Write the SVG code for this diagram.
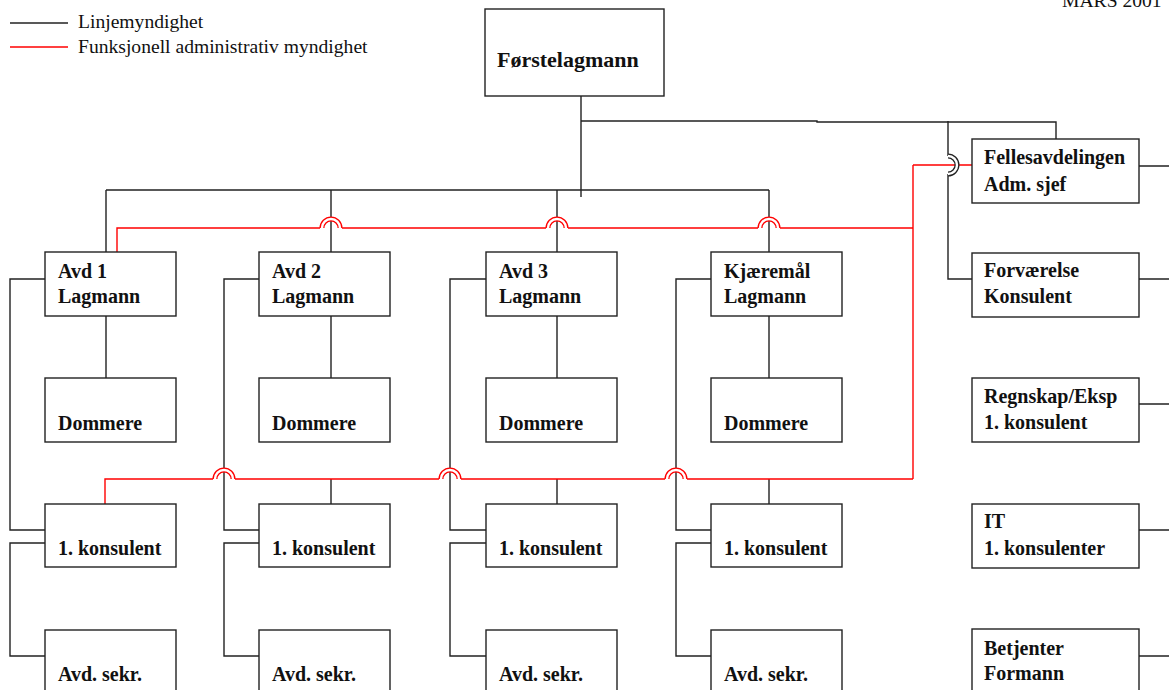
<svg xmlns="http://www.w3.org/2000/svg" width="1169" height="690" viewBox="0 0 1169 690">
<style>
.box{fill:#fff;stroke:#222;stroke-width:1.4}
.t{font-family:"Liberation Serif","Times New Roman",serif;font-weight:bold;font-size:20px;fill:#111}
.lg{font-family:"Liberation Serif","Times New Roman",serif;font-size:19.6px;fill:#111}
.k{fill:none;stroke:#222;stroke-width:1.4}
.r{fill:none;stroke:#f00;stroke-width:1.4}
.hr{fill:none;stroke:#f00;stroke-width:5}
.hk{fill:none;stroke:#222;stroke-width:5}
.hw{fill:none;stroke:#fff;stroke-width:2.4}
</style>
<rect width="1169" height="690" fill="#fff"/>
<g id="legend">
<line class="k" x1="10" y1="23" x2="68" y2="23"/>
<text class="lg" x="78" y="28">Linjemyndighet</text>
<line class="r" x1="10" y1="47" x2="68" y2="47"/>
<text class="lg" x="78" y="53">Funksjonell administrativ myndighet</text>
<text class="lg" x="1062" y="7">MARS 2001</text>
</g>
<g id="connectors">
<path class="k" d="M581 96V197M106 190H769M106 190V252M331 190V252M557 190V252M769 190V252"/>
<path class="k" d="M581 121H817V122H1056V139M948 121V156M948 174V279H972"/>
<path class="k" d="M106 316V378M331 316V378M557 316V378M769 316V378"/>
<path class="k" d="M45 279H10V530H45M45 543H10V656H45M259 279H224V530H259M259 543H224V656H259M486 279H450V530H486M486 543H450V656H486M711 279H676V530H711M711 543H676V656H711"/>
<path class="k" d="M331 479V504M557 479V504M769 479V504"/>
<path class="k" d="M1139 166H1169M1139 279H1169M1139 404H1169M1139 530H1169M1139 656H1169"/>
<path class="r" d="M117 252V228H320M342 228H546M568 228H758M780 228H913M913 165V479M913 165H972M105 504V479H213M235 479H439M461 479H665M687 479H913"/>
<g>
<path class="hr" d="M322 228A9 9 0 0 1 340 228M548 228A9 9 0 0 1 566 228M760 228A9 9 0 0 1 778 228M215 479A9 9 0 0 1 233 479M441 479A9 9 0 0 1 459 479M667 479A9 9 0 0 1 685 479"/>
<path class="hw" d="M322 228A9 9 0 0 1 340 228M548 228A9 9 0 0 1 566 228M760 228A9 9 0 0 1 778 228M215 479A9 9 0 0 1 233 479M441 479A9 9 0 0 1 459 479M667 479A9 9 0 0 1 685 479"/>
<path class="hk" d="M948 156A9 9 0 0 1 948 174"/>
<path class="hw" d="M948 156A9 9 0 0 1 948 174"/>
</g>
</g>
<g id="n-forste"><rect class="box" x="485" y="9" width="179" height="87"/><text class="t" x="497" y="67" style="font-size:22px">Førstelagmann</text></g>
<g id="n-avd1"><rect class="box" x="45" y="252" width="131" height="64"/><text class="t" x="58" y="278">Avd 1</text><text class="t" x="58" y="303">Lagmann</text></g>
<g id="n-avd2"><rect class="box" x="259" y="252" width="131" height="64"/><text class="t" x="272" y="278">Avd 2</text><text class="t" x="272" y="303">Lagmann</text></g>
<g id="n-avd3"><rect class="box" x="486" y="252" width="131" height="64"/><text class="t" x="499" y="278">Avd 3</text><text class="t" x="499" y="303">Lagmann</text></g>
<g id="n-kjaer"><rect class="box" x="711" y="252" width="131" height="64"/><text class="t" x="724" y="278">Kjæremål</text><text class="t" x="724" y="303">Lagmann</text></g>
<g id="n-dom1"><rect class="box" x="45" y="378" width="131" height="64"/><text class="t" x="58" y="430">Dommere</text></g>
<g id="n-dom2"><rect class="box" x="259" y="378" width="131" height="64"/><text class="t" x="272" y="430">Dommere</text></g>
<g id="n-dom3"><rect class="box" x="486" y="378" width="131" height="64"/><text class="t" x="499" y="430">Dommere</text></g>
<g id="n-dom4"><rect class="box" x="711" y="378" width="131" height="64"/><text class="t" x="724" y="430">Dommere</text></g>
<g id="n-kons1"><rect class="box" x="45" y="504" width="131" height="63"/><text class="t" x="58" y="555">1. konsulent</text></g>
<g id="n-kons2"><rect class="box" x="259" y="504" width="131" height="63"/><text class="t" x="272" y="555">1. konsulent</text></g>
<g id="n-kons3"><rect class="box" x="486" y="504" width="131" height="63"/><text class="t" x="499" y="555">1. konsulent</text></g>
<g id="n-kons4"><rect class="box" x="711" y="504" width="131" height="63"/><text class="t" x="724" y="555">1. konsulent</text></g>
<g id="n-sekr1"><rect class="box" x="45" y="630" width="131" height="70"/><text class="t" x="58" y="681">Avd. sekr.</text></g>
<g id="n-sekr2"><rect class="box" x="259" y="630" width="131" height="70"/><text class="t" x="272" y="681">Avd. sekr.</text></g>
<g id="n-sekr3"><rect class="box" x="486" y="630" width="131" height="70"/><text class="t" x="499" y="681">Avd. sekr.</text></g>
<g id="n-sekr4"><rect class="box" x="711" y="630" width="131" height="70"/><text class="t" x="724" y="681">Avd. sekr.</text></g>
<g id="n-felles"><rect class="box" x="972" y="139" width="167" height="64"/><text class="t" x="984" y="164">Fellesavdelingen</text><text class="t" x="984" y="191">Adm. sjef</text></g>
<g id="n-forv"><rect class="box" x="972" y="253" width="167" height="64"/><text class="t" x="984" y="277">Forværelse</text><text class="t" x="984" y="303">Konsulent</text></g>
<g id="n-regn"><rect class="box" x="972" y="378" width="167" height="64"/><text class="t" x="984" y="403">Regnskap/Eksp</text><text class="t" x="984" y="429">1. konsulent</text></g>
<g id="n-it"><rect class="box" x="972" y="504" width="167" height="64"/><text class="t" x="984" y="528">IT</text><text class="t" x="984" y="555">1. konsulenter</text></g>
<g id="n-betj"><rect class="box" x="972" y="629" width="167" height="70"/><text class="t" x="984" y="655">Betjenter</text><text class="t" x="984" y="680">Formann</text></g>
</svg>
